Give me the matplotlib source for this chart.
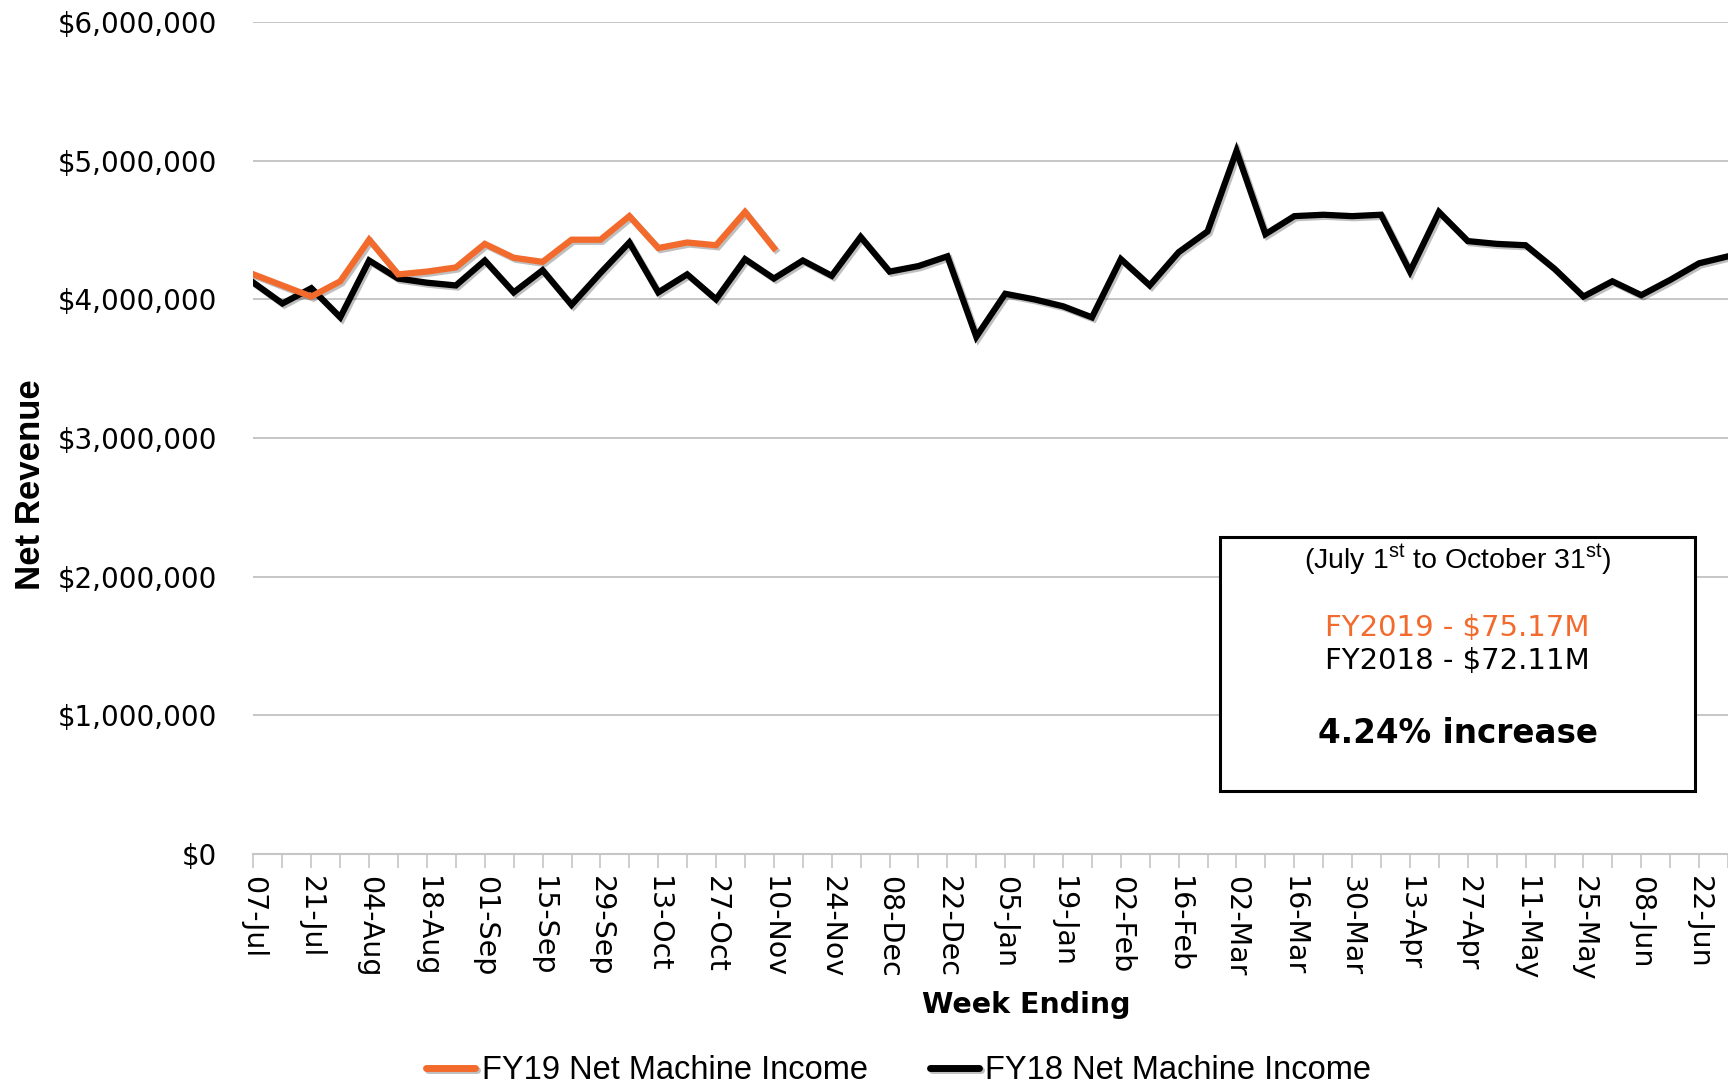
import matplotlib
matplotlib.use("Agg")
import matplotlib.pyplot as plt
import matplotlib.patheffects as pe
from matplotlib.patches import Rectangle
from matplotlib.ticker import FuncFormatter
import numpy as np

# week ending labels (FY runs July -> June)
weeks = ['07-Jul', '14-Jul', '21-Jul', '28-Jul', '04-Aug', '11-Aug', '18-Aug', '25-Aug',
         '01-Sep', '08-Sep', '15-Sep', '22-Sep', '29-Sep', '06-Oct', '13-Oct', '20-Oct',
         '27-Oct', '03-Nov', '10-Nov', '17-Nov', '24-Nov', '01-Dec', '08-Dec', '15-Dec',
         '22-Dec', '29-Dec', '05-Jan', '12-Jan', '19-Jan', '26-Jan', '02-Feb', '09-Feb',
         '16-Feb', '23-Feb', '02-Mar', '09-Mar', '16-Mar', '23-Mar', '30-Mar', '06-Apr',
         '13-Apr', '20-Apr', '27-Apr', '04-May', '11-May', '18-May', '25-May', '01-Jun',
         '08-Jun', '15-Jun', '22-Jun', '29-Jun']

# net machine income, millions of dollars
fy19 = [4.18, 4.10, 4.02, 4.13, 4.43, 4.18, 4.20, 4.23, 4.40, 4.30,
        4.27, 4.43, 4.43, 4.60, 4.37, 4.41, 4.39, 4.63, 4.37]
fy18 = [4.12, 3.97, 4.08, 3.87, 4.28, 4.15, 4.12, 4.10, 4.28, 4.05,
        4.21, 3.96, 4.19, 4.41, 4.05, 4.18, 4.00, 4.29, 4.15, 4.28,
        4.17, 4.45, 4.20, 4.24, 4.31, 3.73, 4.04, 4.00, 3.95, 3.87,
        4.29, 4.10, 4.34, 4.49, 5.07, 4.47, 4.60, 4.61, 4.60, 4.61,
        4.20, 4.63, 4.42, 4.40, 4.39, 4.22, 4.02, 4.13, 4.03, 4.14,
        4.26, 4.31]

yticks = [0, 1000000, 2000000, 3000000, 4000000, 5000000, 6000000]

box_lines = ['(July 1$^{\\mathrm{st}}$ to October 31$^{\\mathrm{st}}$)',
             'FY2019 - $75.17M', 'FY2018 - $72.11M', '4.24% increase']

ORANGE = '#F26A2C'
GRID = '#C6C6C6'
arial = ['Liberation Sans', 'DejaVu Sans']

plt.rcParams['font.family'] = ['DejaVu Sans']
plt.rcParams['mathtext.fontset'] = 'custom'
plt.rcParams['mathtext.rm'] = 'Liberation Sans'

fig = plt.figure(figsize=(17.28, 10.84), dpi=100)
ax = fig.add_axes([0.1467, 0.2122, 0.8533, 0.7675])

x18 = np.arange(len(fy18))
x19 = np.arange(len(fy19))
shadow = [pe.SimpleLineShadow(offset=(1.5, -1.5), shadow_color='k', alpha=0.25), pe.Normal()]
ax.plot(x18, np.array(fy18) * 1e6, color='black', lw=4.5, solid_joinstyle='miter',
        path_effects=shadow, label='FY18 Net Machine Income', zorder=3)
ax.plot(x19, np.array(fy19) * 1e6, color=ORANGE, lw=4.5, solid_joinstyle='miter',
        path_effects=shadow, label='FY19 Net Machine Income', zorder=4)

ax.set_xlim(0, len(weeks) - 1)
ax.set_ylim(0, 6000000)
ax.set_yticks(yticks)
ax.yaxis.set_major_formatter(FuncFormatter(lambda v, p: '${:,.0f}'.format(v)))
ax.tick_params(axis='y', length=0, pad=26, labelsize=20)
ax.grid(axis='y', color=GRID, lw=1.4)
ax.set_axisbelow(True)

ax.set_xticks(x18[::2])
ax.set_xticklabels(weeks[::2], rotation=270, fontsize=20.5)
ax.set_xticks(x18[1::2], minor=True)
ax.tick_params(axis='x', which='both', length=10, width=1.2, color=GRID, pad=6)

for s in ['top', 'right', 'left']:
    ax.spines[s].set_visible(False)
ax.spines['bottom'].set_color(GRID)
ax.spines['bottom'].set_linewidth(1.5)

fig.text(0.0175, 0.553, 'Net Revenue', rotation=90, ha='center', va='center',
         fontsize=25, fontweight='bold', family=arial)
fig.text(0.594, 0.073, 'Week Ending', ha='center', va='center',
         fontsize=20.5, fontweight='bold')

# summary box
fig.patches.append(Rectangle((0.706, 0.2703), 0.2749, 0.2343, transform=fig.transFigure,
                             fill=True, facecolor='white', edgecolor='black', lw=2.2, zorder=5))
cx = 0.8435
fig.text(cx, 0.4834, box_lines[0], ha='center', va='center', fontsize=20.5,
         family='Liberation Sans', zorder=6)
fig.text(cx, 0.4207, box_lines[1], ha='center', va='center', fontsize=21, color=ORANGE, zorder=6)
fig.text(cx, 0.3902, box_lines[2], ha='center', va='center', fontsize=21, zorder=6)
fig.text(cx, 0.3229, box_lines[3], ha='center', va='center', fontsize=23.5,
         fontweight='bold', zorder=6)

h, l = ax.get_legend_handles_labels()
leg = ax.legend(h[::-1], l[::-1], loc='center', bbox_to_anchor=(0.520, 0.012),
                bbox_transform=fig.transFigure, ncol=2, frameon=False,
                prop={'family': arial, 'size': 23.5}, handlelength=1.5,
                handletextpad=0.2, columnspacing=1.9)
for line in leg.get_lines():
    line.set_linewidth(5)
    line.set_solid_capstyle('round')

fig.savefig('out.png', dpi=100)
